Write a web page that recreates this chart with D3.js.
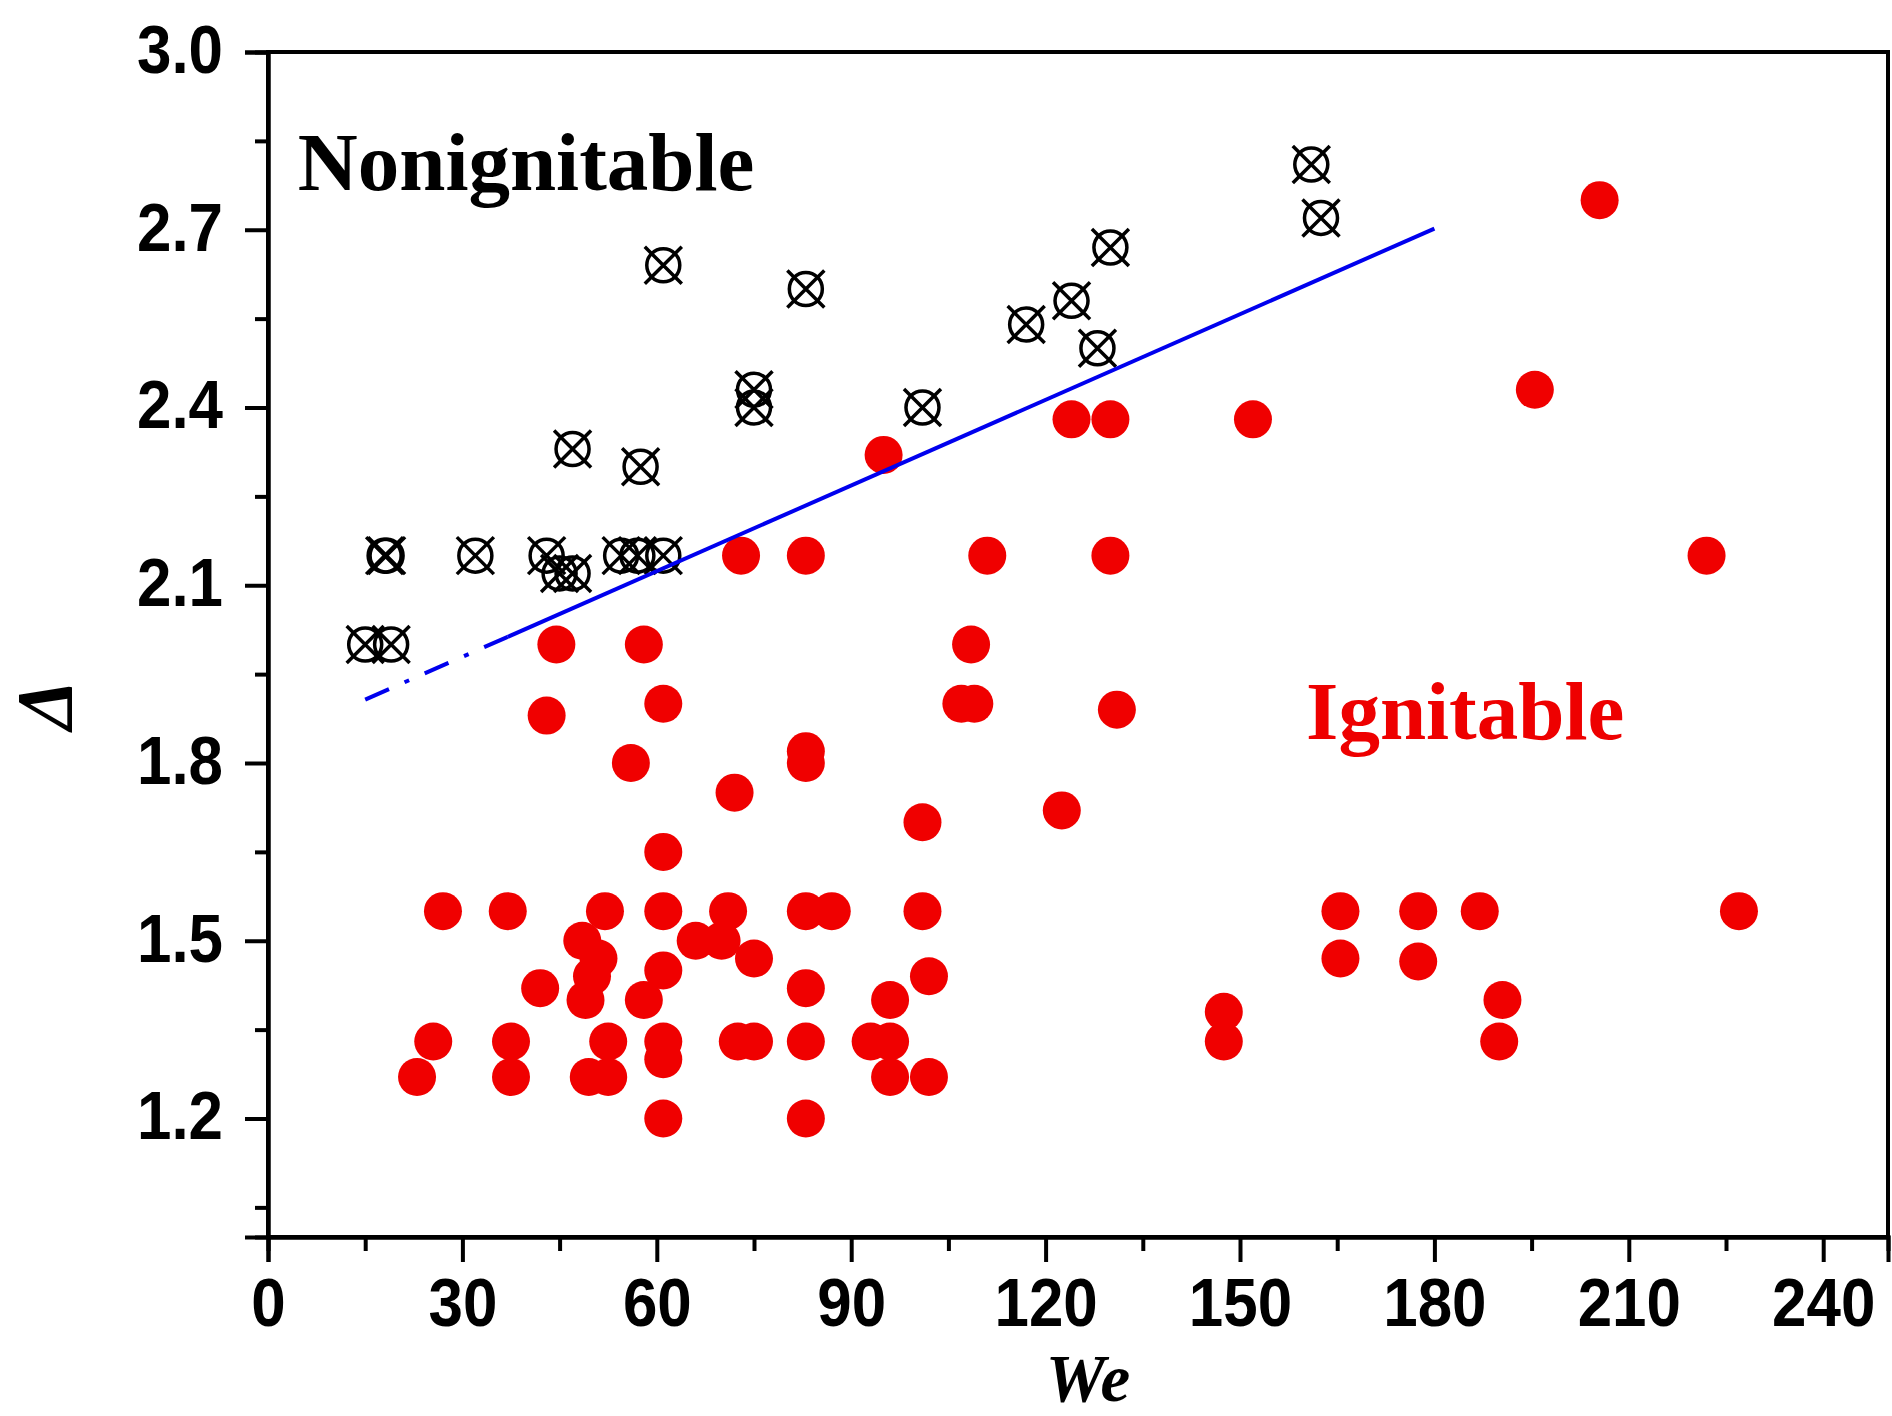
<!DOCTYPE html>
<html>
<head>
<meta charset="utf-8">
<script src="https://cdn.jsdelivr.net/npm/d3@7"></script>
<style>
  body { margin: 0; background: #fff; }
  .tickText { font-family: "Liberation Sans", Arial, sans-serif; font-weight: bold; font-size: 68px; fill: #000; }
</style>
</head>
<body>
<div id="scatter"></div>
<script>
// Nonignitable points (crossed circles)
var nonWe    = [15, 19, 18, 18.3, 32, 43, 45, 47, 54.5, 57, 61, 47, 57.5, 61, 75, 75, 83, 101, 117, 124, 128, 130, 161, 162.5];
var nonDelta = [2.0, 2.0, 2.15, 2.15, 2.15, 2.15, 2.12, 2.12, 2.15, 2.15, 2.15, 2.33, 2.30, 2.64, 2.43, 2.40, 2.60, 2.40, 2.54, 2.58, 2.50, 2.67, 2.81, 2.72];

// Ignitable points (red dots)
var ignWe = [205.5, 195.5, 124, 130, 152, 95,
    73, 83, 111, 130, 222,
    44.5, 58, 108.5,
    43, 61, 107, 109, 131,
    56, 83, 83, 72, 122.5, 101, 61,
    27, 37, 52, 61, 71, 83, 87, 101, 165.5, 177.5, 187, 227,
    48.5, 66, 70,
    51, 75, 165.5, 177.5,
    50, 102, 61, 42, 83,
    49, 58, 96, 147.5, 190.5,
    25.5, 37.5, 52.5, 61, 72.5, 75, 83, 93, 96, 147.5, 190,
    61,
    23, 37.5, 49.5, 52.5, 96, 102,
    61, 83];
var ignDelta = [2.75, 2.43, 2.38, 2.38, 2.38, 2.32,
    2.15, 2.15, 2.15, 2.15, 2.15,
    2.0, 2.0, 2.0,
    1.88, 1.90, 1.90, 1.90, 1.89,
    1.80, 1.80, 1.82, 1.75, 1.72, 1.70, 1.65,
    1.55, 1.55, 1.55, 1.55, 1.55, 1.55, 1.55, 1.55, 1.55, 1.55, 1.55, 1.55,
    1.50, 1.50, 1.50,
    1.47, 1.47, 1.47, 1.465,
    1.44, 1.44, 1.45, 1.42, 1.42,
    1.40, 1.40, 1.40, 1.38, 1.40,
    1.33, 1.33, 1.33, 1.33, 1.33, 1.33, 1.33, 1.33, 1.33, 1.33, 1.33,
    1.30,
    1.27, 1.27, 1.27, 1.27, 1.27, 1.27,
    1.20, 1.20];

// Boundary line: dash-dot part then solid part
var dashWe = [15, 37],   dashDelta = [1.907, 2.013];
var solidWe = [37, 180], solidDelta = [2.013, 2.702];

// Axis ticks
var xTicks = [0, 30, 60, 90, 120, 150, 180, 210, 240];
var xMinor = [15, 45, 75, 105, 135, 165, 195, 225];
var yTicks = [1.2, 1.5, 1.8, 2.1, 2.4, 2.7, 3.0];
var yMinor = [1.05, 1.35, 1.65, 1.95, 2.25, 2.55, 2.85];

var svgWidth = 1892;
var svgHeight = 1416;
var margin = {top: 52, right: 4, bottom: 179, left: 268};
var plotWidth = svgWidth - margin.left - margin.right;
var plotHeight = svgHeight - margin.top - margin.bottom;

var svg = d3.select("#scatter")
    .append("svg")
    .attr("width", svgWidth)
    .attr("height", svgHeight);

var chartGroup = svg.append("g")
    .attr("transform", `translate(${margin.left}, ${margin.top})`);

var xScale = d3.scaleLinear().domain([0, 250]).range([0, plotWidth]);
var yScale = d3.scaleLinear().domain([1.0, 3.0]).range([plotHeight, 0]);

var ignData = ignWe.map((w, i) => ({we: w, delta: ignDelta[i]}));
var nonData = nonWe.map((w, i) => ({we: w, delta: nonDelta[i]}));

// Red ignitable dots
chartGroup.selectAll(".ign")
    .data(ignData)
    .enter()
    .append("circle")
    .attr("class", "ign")
    .attr("cx", d => xScale(d.we))
    .attr("cy", d => yScale(d.delta))
    .attr("r", 19)
    .attr("fill", "#f00000");

// Crossed circles for nonignitable
var crossGroup = chartGroup.selectAll(".non")
    .data(nonData)
    .enter()
    .append("g")
    .attr("class", "non")
    .attr("transform", d => `translate(${xScale(d.we)}, ${yScale(d.delta)})`)
    .attr("stroke", "#000")
    .attr("stroke-width", 3.5)
    .attr("fill", "none");
crossGroup.append("circle").attr("r", 16.5);
crossGroup.append("path").attr("d", "M-18.5,-18.5L18.5,18.5M18.5,-18.5L-18.5,18.5");

// Boundary line
var line = d3.line().x(d => xScale(d[0])).y(d => yScale(d[1]));
chartGroup.append("path")
    .datum(dashWe.map((w, i) => [w, dashDelta[i]]))
    .attr("d", line)
    .attr("fill", "none")
    .attr("stroke", "#0000ee")
    .attr("stroke-width", 4)
    .attr("stroke-dasharray", "26,17,5,17");
chartGroup.append("path")
    .datum(solidWe.map((w, i) => [w, solidDelta[i]]))
    .attr("d", line)
    .attr("fill", "none")
    .attr("stroke", "#0000ee")
    .attr("stroke-width", 4);

// Frame
chartGroup.append("rect")
    .attr("width", plotWidth)
    .attr("height", plotHeight)
    .attr("fill", "none")
    .attr("stroke", "#000")
    .attr("stroke-width", 4);

// X axis
var xAxis = chartGroup.append("g")
    .attr("transform", `translate(0, ${plotHeight})`)
    .call(d3.axisBottom(xScale).tickValues(xTicks).tickSize(25).tickPadding(16).tickFormat(d3.format("d")));
chartGroup.append("g")
    .attr("transform", `translate(0, ${plotHeight})`)
    .call(d3.axisBottom(xScale).tickValues(xMinor).tickSize(14).tickFormat(""));

// Y axis
var yAxis = chartGroup.append("g")
    .call(d3.axisLeft(yScale).tickValues(yTicks).tickSize(23).tickPadding(22).tickFormat(d3.format(".1f")));
chartGroup.append("g")
    .call(d3.axisLeft(yScale).tickValues(yMinor).tickSize(13).tickFormat(""));

chartGroup.selectAll(".domain").attr("stroke-width", 4);
chartGroup.selectAll(".tick line").attr("stroke-width", 4);
chartGroup.selectAll(".tick text")
    .attr("class", "tickText")
    .attr("font-size", null)
    .attr("font-family", null);

// squeeze the tick labels a bit, they are narrower than Arial in the figure
chartGroup.selectAll(".tickText").each(function() {
    var len = this.getComputedTextLength();
    d3.select(this).attr("textLength", len * 0.91).attr("lengthAdjust", "spacingAndGlyphs");
});
yAxis.selectAll(".tickText").attr("dy", "0.3em");
xAxis.selectAll(".tickText").attr("dy", "0.71em");

// Region labels
chartGroup.append("text")
    .attr("x", xScale(4.6))
    .attr("y", yScale(2.767))
    .attr("font-family", "'Liberation Serif', 'Times New Roman', serif")
    .attr("font-weight", "bold")
    .attr("font-size", 83)
    .attr("fill", "#000")
    .text("Nonignitable");

chartGroup.append("text")
    .attr("x", xScale(160.2))
    .attr("y", yScale(1.84))
    .attr("font-family", "'Liberation Serif', 'Times New Roman', serif")
    .attr("font-weight", "bold")
    .attr("font-size", 83)
    .attr("fill", "#ee0000")
    .text("Ignitable");

// Axis titles
svg.append("text")
    .attr("x", 1088)
    .attr("y", 1401)
    .attr("text-anchor", "middle")
    .attr("font-family", "'Liberation Serif', 'Times New Roman', serif")
    .attr("font-style", "italic")
    .attr("font-weight", "bold")
    .attr("font-size", 67)
    .text("We");

svg.append("text")
    .attr("transform", "translate(72, 705) rotate(-90)")
    .attr("text-anchor", "middle")
    .attr("font-family", "'Liberation Serif', 'Times New Roman', serif")
    .attr("font-style", "italic")
    .attr("font-weight", "bold")
    .attr("font-size", 80)
    .text("Δ");
</script>
</body>
</html>
